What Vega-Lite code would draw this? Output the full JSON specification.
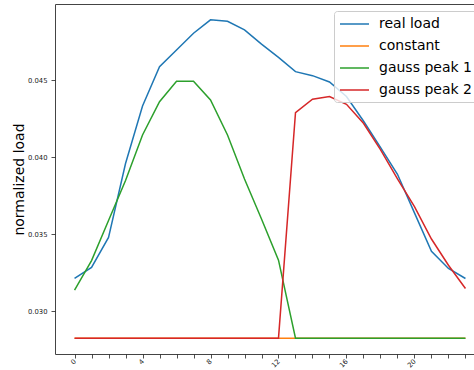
{
  "$schema": "https://vega.github.io/schema/vega-lite/v6.json",
  "autosize": {"type": "none"},
  "padding": {"left": 55, "top": 4, "right": 0, "bottom": 16},
  "width": 430,
  "height": 350,
  "config": {
    "font": "DejaVu Sans",
    "view": {"stroke": "#444", "strokeWidth": 1},
    "axis": {
      "domain": false,
      "grid": false,
      "tickColor": "#222",
      "tickSize": 4,
      "tickWidth": 0.8,
      "labelColor": "#222",
      "labelFontSize": 6.8,
      "labelFont": "DejaVu Sans"
    }
  },
  "data": {
    "values": [
      {"series": "real load", "t": 0, "load": 0.03214},
      {"series": "real load", "t": 1, "load": 0.03286},
      {"series": "real load", "t": 2, "load": 0.0348},
      {"series": "real load", "t": 3, "load": 0.0396},
      {"series": "real load", "t": 4, "load": 0.04333},
      {"series": "real load", "t": 5, "load": 0.04588},
      {"series": "real load", "t": 6, "load": 0.04697},
      {"series": "real load", "t": 7, "load": 0.04805},
      {"series": "real load", "t": 8, "load": 0.04892},
      {"series": "real load", "t": 9, "load": 0.04883},
      {"series": "real load", "t": 10, "load": 0.04827},
      {"series": "real load", "t": 11, "load": 0.04735},
      {"series": "real load", "t": 12, "load": 0.04649},
      {"series": "real load", "t": 13, "load": 0.04556},
      {"series": "real load", "t": 14, "load": 0.0453},
      {"series": "real load", "t": 15, "load": 0.04489},
      {"series": "real load", "t": 16, "load": 0.04395},
      {"series": "real load", "t": 17, "load": 0.04236},
      {"series": "real load", "t": 18, "load": 0.04065},
      {"series": "real load", "t": 19, "load": 0.0389},
      {"series": "real load", "t": 20, "load": 0.0364},
      {"series": "real load", "t": 21, "load": 0.0339},
      {"series": "real load", "t": 22, "load": 0.03279},
      {"series": "real load", "t": 23, "load": 0.03214},
      {"series": "constant", "t": 0, "load": 0.02827},
      {"series": "constant", "t": 1, "load": 0.02827},
      {"series": "constant", "t": 2, "load": 0.02827},
      {"series": "constant", "t": 3, "load": 0.02827},
      {"series": "constant", "t": 4, "load": 0.02827},
      {"series": "constant", "t": 5, "load": 0.02827},
      {"series": "constant", "t": 6, "load": 0.02827},
      {"series": "constant", "t": 7, "load": 0.02827},
      {"series": "constant", "t": 8, "load": 0.02827},
      {"series": "constant", "t": 9, "load": 0.02827},
      {"series": "constant", "t": 10, "load": 0.02827},
      {"series": "constant", "t": 11, "load": 0.02827},
      {"series": "constant", "t": 12, "load": 0.02827},
      {"series": "constant", "t": 13, "load": 0.02827},
      {"series": "constant", "t": 14, "load": 0.02827},
      {"series": "constant", "t": 15, "load": 0.02827},
      {"series": "constant", "t": 16, "load": 0.02827},
      {"series": "constant", "t": 17, "load": 0.02827},
      {"series": "constant", "t": 18, "load": 0.02827},
      {"series": "constant", "t": 19, "load": 0.02827},
      {"series": "constant", "t": 20, "load": 0.02827},
      {"series": "constant", "t": 21, "load": 0.02827},
      {"series": "constant", "t": 22, "load": 0.02827},
      {"series": "constant", "t": 23, "load": 0.02827},
      {"series": "gauss peak 1", "t": 0, "load": 0.03138},
      {"series": "gauss peak 1", "t": 1, "load": 0.0333},
      {"series": "gauss peak 1", "t": 2, "load": 0.0359},
      {"series": "gauss peak 1", "t": 3, "load": 0.0385},
      {"series": "gauss peak 1", "t": 4, "load": 0.04145},
      {"series": "gauss peak 1", "t": 5, "load": 0.04361},
      {"series": "gauss peak 1", "t": 6, "load": 0.04494},
      {"series": "gauss peak 1", "t": 7, "load": 0.04494},
      {"series": "gauss peak 1", "t": 8, "load": 0.04372},
      {"series": "gauss peak 1", "t": 9, "load": 0.04145},
      {"series": "gauss peak 1", "t": 10, "load": 0.0386},
      {"series": "gauss peak 1", "t": 11, "load": 0.036},
      {"series": "gauss peak 1", "t": 12, "load": 0.03333},
      {"series": "gauss peak 1", "t": 13, "load": 0.02827},
      {"series": "gauss peak 1", "t": 14, "load": 0.02827},
      {"series": "gauss peak 1", "t": 15, "load": 0.02827},
      {"series": "gauss peak 1", "t": 16, "load": 0.02827},
      {"series": "gauss peak 1", "t": 17, "load": 0.02827},
      {"series": "gauss peak 1", "t": 18, "load": 0.02827},
      {"series": "gauss peak 1", "t": 19, "load": 0.02827},
      {"series": "gauss peak 1", "t": 20, "load": 0.02827},
      {"series": "gauss peak 1", "t": 21, "load": 0.02827},
      {"series": "gauss peak 1", "t": 22, "load": 0.02827},
      {"series": "gauss peak 1", "t": 23, "load": 0.02827},
      {"series": "gauss peak 2", "t": 0, "load": 0.02827},
      {"series": "gauss peak 2", "t": 1, "load": 0.02827},
      {"series": "gauss peak 2", "t": 2, "load": 0.02827},
      {"series": "gauss peak 2", "t": 3, "load": 0.02827},
      {"series": "gauss peak 2", "t": 4, "load": 0.02827},
      {"series": "gauss peak 2", "t": 5, "load": 0.02827},
      {"series": "gauss peak 2", "t": 6, "load": 0.02827},
      {"series": "gauss peak 2", "t": 7, "load": 0.02827},
      {"series": "gauss peak 2", "t": 8, "load": 0.02827},
      {"series": "gauss peak 2", "t": 9, "load": 0.02827},
      {"series": "gauss peak 2", "t": 10, "load": 0.02827},
      {"series": "gauss peak 2", "t": 11, "load": 0.02827},
      {"series": "gauss peak 2", "t": 12, "load": 0.02827},
      {"series": "gauss peak 2", "t": 13, "load": 0.0429},
      {"series": "gauss peak 2", "t": 14, "load": 0.04377},
      {"series": "gauss peak 2", "t": 15, "load": 0.04394},
      {"series": "gauss peak 2", "t": 16, "load": 0.04344},
      {"series": "gauss peak 2", "t": 17, "load": 0.04221},
      {"series": "gauss peak 2", "t": 18, "load": 0.0405},
      {"series": "gauss peak 2", "t": 19, "load": 0.0386},
      {"series": "gauss peak 2", "t": 20, "load": 0.0368},
      {"series": "gauss peak 2", "t": 21, "load": 0.0347},
      {"series": "gauss peak 2", "t": 22, "load": 0.033},
      {"series": "gauss peak 2", "t": 23, "load": 0.03149}
    ]
  },
  "mark": {"type": "line", "strokeWidth": 1.5, "clip": true},
  "encoding": {
    "x": {
      "field": "t",
      "type": "quantitative",
      "scale": {"domain": [-1.15, 24.15], "nice": false, "zero": false},
      "axis": {
        "title": null,
        "values": [0,1,2,3,4,5,6,7,8,9,10,11,12,13,14,15,16,17,18,19,20,21,22,23],
        "labelExpr": "datum.value % 4 == 0 ? datum.label : ''",
        "labelAngle": -45,
        "labelAlign": "right",
        "labelBaseline": "middle",
        "labelPadding": 2,
        "labelOverlap": false
      }
    },
    "y": {
      "field": "load",
      "type": "quantitative",
      "scale": {"domain": [0.02724, 0.04995], "nice": false, "zero": false},
      "axis": {
        "title": "normalized load",
        "titleFontSize": 14,
        "titleFontWeight": "normal",
        "titleColor": "#000",
        "titleAngle": -90,
        "titleX": -36,
        "titleY": 175,
        "titleAlign": "center",
        "titleBaseline": "middle",
        "values": [0.03, 0.035, 0.04, 0.045],
        "format": ".3f",
        "labelPadding": 4
      }
    },
    "color": {
      "field": "series",
      "type": "nominal",
      "sort": ["real load", "constant", "gauss peak 1", "gauss peak 2"],
      "scale": {
        "domain": ["real load", "constant", "gauss peak 1", "gauss peak 2"],
        "range": ["#1f77b4", "#ff7f0e", "#2ca02c", "#d62728"]
      },
      "legend": {
        "title": null,
        "orient": "none",
        "legendX": 279,
        "legendY": 7,
        "symbolType": "M-1,0H3.143",
        "symbolSize": 196,
        "symbolStrokeWidth": 1.5,
        "labelFontSize": 14,
        "labelColor": "#000",
        "labelOffset": 24,
        "rowPadding": 7,
        "padding": 5,
        "fillColor": "rgba(255,255,255,0.8)",
        "strokeColor": "#cccccc",
        "cornerRadius": 3
      }
    }
  }
}
